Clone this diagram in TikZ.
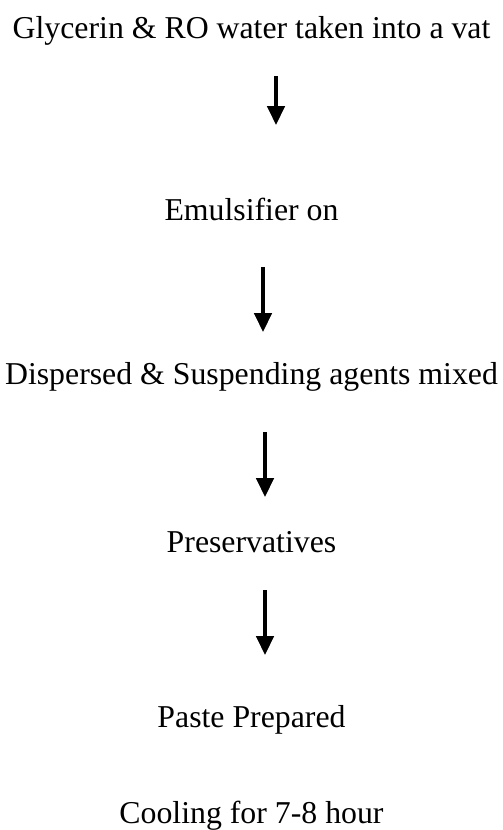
\documentclass[tikz,border=0pt]{standalone}
\usepackage{fontspec}
\setmainfont{Liberation Serif}
\usetikzlibrary{arrows.meta}
\begin{document}
\begin{tikzpicture}[x=1bp,y=-1bp,
  steptext/.style={anchor=base,inner sep=0pt,font=\fontsize{31.8bp}{38bp}\selectfont},
  flowarrow/.style={line width=4.5bp,-{Triangle[width=17bp,length=19bp]},black},
  flowshadow/.style={line width=4.5bp,-{Triangle[width=17bp,length=19bp]},black!45,
    shift={(1.2bp,-1.5bp)}}]
\useasboundingbox (0,0) rectangle (503,830);

% process steps
\node[steptext] (s1) at (251.5,38)  {Glycerin \& RO water taken into a vat};
\node[steptext] (s2) at (251.5,220) {Emulsifier on};
\node[steptext] (s3) at (251.5,384) {Dispersed \& Suspending agents mixed};
\node[steptext] (s4) at (251.5,552) {Preservatives};
\node[steptext] (s5) at (251.5,727) {Paste Prepared};
\node[steptext] (s6) at (251.5,823) {Cooling for 7-8 hour};

% arrow end points
\coordinate (a1s) at (276,76);  \coordinate (a1e) at (276,125);
\coordinate (a2s) at (263,267); \coordinate (a2e) at (263,332);
\coordinate (a3s) at (265,432); \coordinate (a3e) at (265,497);
\coordinate (a4s) at (265,590); \coordinate (a4e) at (265,655);

% shaded arrows
\foreach \a in {1,2,3,4}{
  \draw[flowshadow] (a\a s) -- (a\a e);
  \draw[flowarrow] (a\a s) -- (a\a e);
}
\end{tikzpicture}
\end{document}
